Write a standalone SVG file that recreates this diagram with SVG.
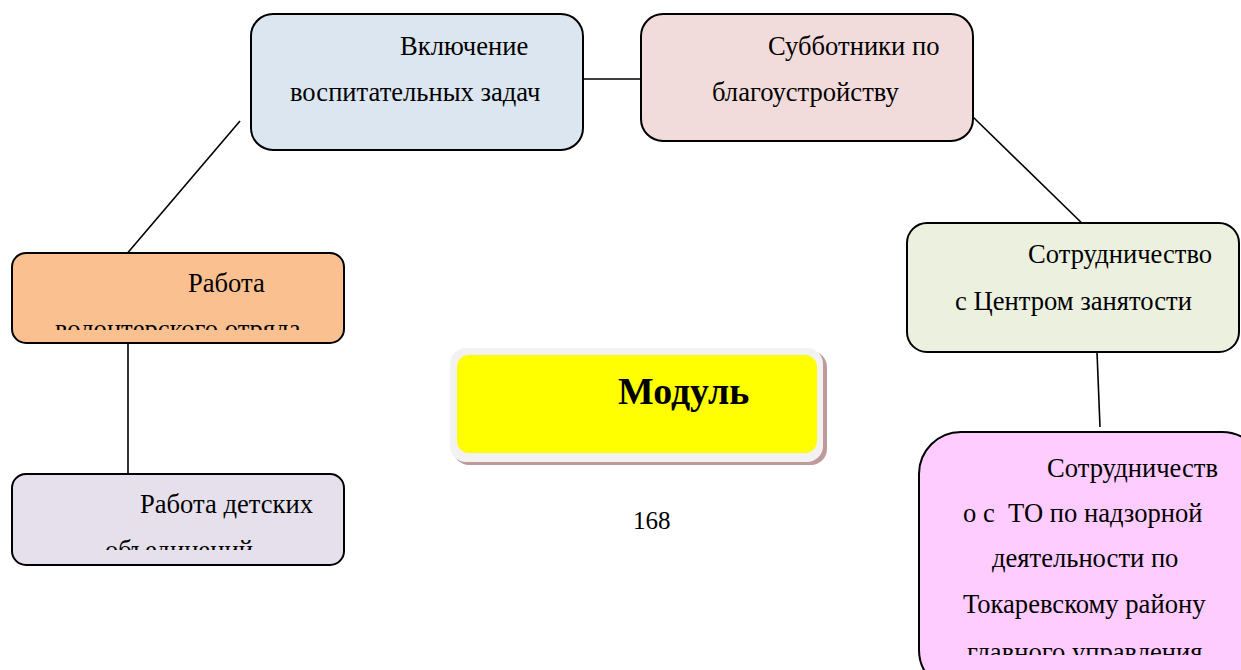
<svg xmlns="http://www.w3.org/2000/svg" width="1241" height="670" viewBox="0 0 1241 670">
<style>
.box{stroke:#000;stroke-width:2}
.t{font-family:"Liberation Serif","Times New Roman",serif;font-size:26.6px;fill:#000}
.c{stroke:#000;stroke-width:1.6;fill:none}
</style>
<defs>
<clipPath id="clip3"><rect x="0" y="0" width="400" height="330"/></clipPath>
<clipPath id="clip4"><rect x="0" y="0" width="400" height="550"/></clipPath>
<clipPath id="clip6"><rect x="900" y="0" width="341" height="655"/></clipPath>
</defs>
<rect width="1241" height="670" fill="#fff"/>
<g id="connectors">
<line class="c" x1="583" y1="79" x2="641" y2="79"/>
<line class="c" x1="240" y1="121" x2="125" y2="256"/>
<line class="c" x1="128" y1="343" x2="128" y2="475"/>
<line class="c" x1="973" y1="117" x2="1090" y2="231"/>
<line class="c" x1="1097" y1="352" x2="1100" y2="427"/>
</g>
<g id="node-vkl">
<rect class="box" x="251" y="14" width="332" height="136" rx="22" fill="#dce6f1"/>
<text class="t" x="400" y="55">Включение</text>
<text class="t" x="290" y="101">воспитательных задач</text>
</g>
<g id="node-subb">
<rect class="box" x="641" y="14" width="332" height="127" rx="22" fill="#f2dcdb"/>
<text class="t" x="768" y="55">Субботники по</text>
<text class="t" x="712" y="101">благоустройству</text>
</g>
<g id="node-volont">
<rect class="box" x="12" y="253" width="332" height="90" rx="14" fill="#fac090"/>
<text class="t" x="188" y="292">Работа</text>
<text class="t" x="55" y="338" clip-path="url(#clip3)">волонтерского отряда</text>
</g>
<g id="node-deti">
<rect class="box" x="12" y="474" width="332" height="91" rx="14" fill="#e5e0ec"/>
<text class="t" x="140" y="513">Работа детских</text>
<text class="t" x="105" y="559" clip-path="url(#clip4)">объединений</text>
</g>
<g id="node-modul">
<rect x="453" y="351" width="374" height="114" rx="16" fill="#c09a9a"/>
<rect x="450" y="348" width="373" height="114" rx="16" fill="#f2f2f2"/>
<rect x="457" y="355" width="360" height="98" rx="12" fill="#ffff00"/>
<text x="618" y="404" font-family="Liberation Serif,Times New Roman,serif" font-size="37.8" font-weight="bold" fill="#000">Модуль</text>
</g>
<g id="page-num">
<text class="t" x="633" y="529" style="font-size:25px">168</text>
</g>
<g id="node-czn">
<rect class="box" x="907" y="223" width="332" height="129" rx="20" fill="#ebf1de"/>
<text class="t" x="1028" y="263">Сотрудничество</text>
<text class="t" x="955" y="310">с Центром занятости</text>
</g>
<g id="node-to">
<rect class="box" x="919" y="432" width="345" height="260" rx="42" fill="#ffccff"/>
<text class="t" x="1047" y="477">Сотрудничеств</text>
<text class="t" x="963" y="522" xml:space="preserve">о с  ТО по надзорной</text>
<text class="t" x="992" y="567">деятельности по</text>
<text class="t" x="963" y="613">Токаревскому району</text>
<text class="t" x="967" y="661" clip-path="url(#clip6)">главного управления</text>
</g>
</svg>
